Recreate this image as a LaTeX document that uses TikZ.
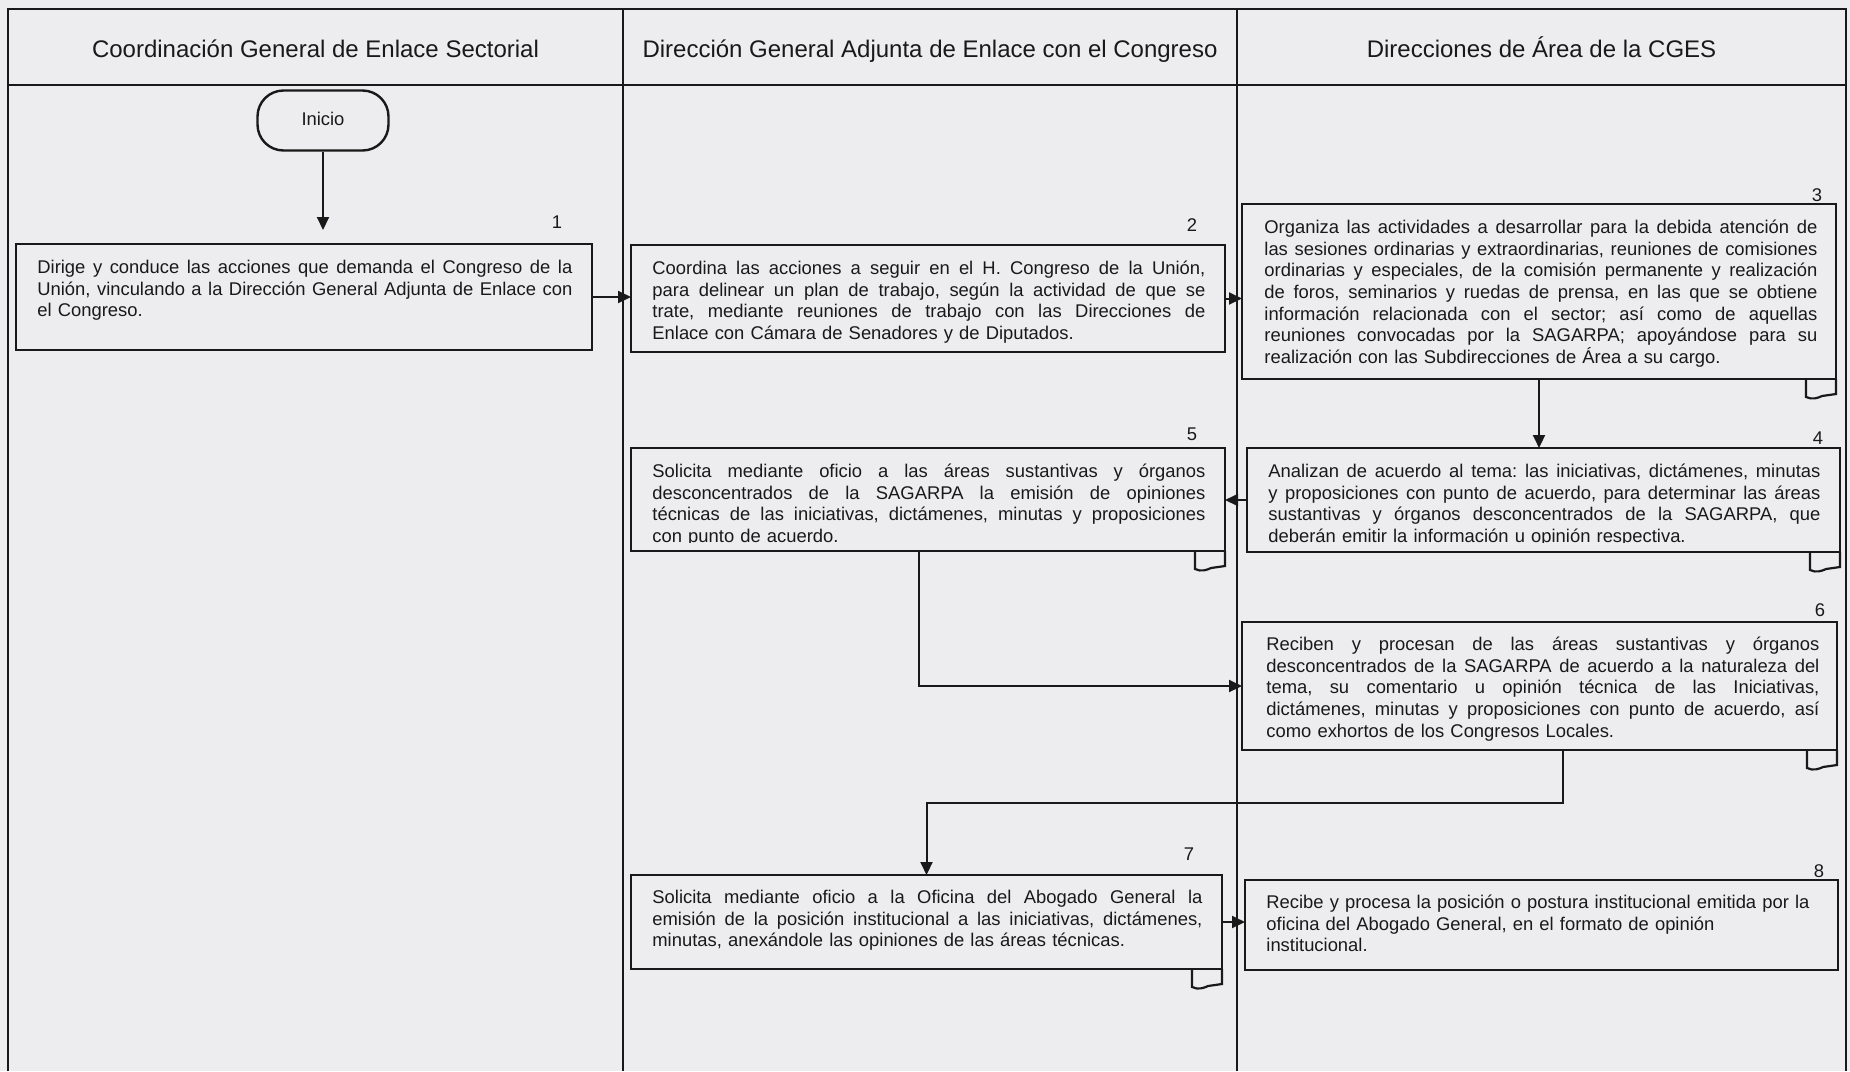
\documentclass[tikz,border=0pt]{standalone}
\usepackage{fontspec}
\setmainfont{Liberation Sans}
\usetikzlibrary{arrows.meta}
\definecolor{paper}{RGB}{237,237,239}
\definecolor{ink}{RGB}{25,25,25}
% width of a justified line inside a step description
\newdimen\jw
% one justified line / one natural-width line of a step description
\newcommand\jl[1]{\hbox to\jw{\spaceskip=0.2778em plus 1fil\relax\rule{0pt}{8pt}#1}\par}
\newcommand\jr[1]{\hbox{\rule{0pt}{8pt}#1}\par}
% small document tab under the lower right corner of a step box
\newcommand\doctab[1]{%
  \draw[tabline] ([shift={(-30,0)}]#1.south east) -- ([shift={(-30,18)}]#1.south east)
    .. controls ([shift={(-24,21)}]#1.south east) and ([shift={(-18,19)}]#1.south east)
    .. ([shift={(-14,17)}]#1.south east) -- ([shift={(0,15)}]#1.south east) -- (#1.south east);}
\begin{document}
\begin{tikzpicture}[x=0.5pt,y=-0.5pt,
  lane/.style={draw=ink,line width=1pt},
  stepbox/.style={draw=ink,line width=1.2pt,inner sep=0pt,outer sep=0pt},
  tabline/.style={draw=ink,line width=1.1pt},
  txt/.style={anchor=north west,inner sep=0pt,text=ink,
    font=\fontsize{9.2pt}{10.85pt}\selectfont\frenchspacing},
  lines/.style={text width=#1,execute at begin node={\jw=#1\relax}},
  head/.style={anchor=base,inner sep=0pt,text=ink,font=\fontsize{12pt}{14pt}\selectfont},
  num/.style={inner sep=0pt,text=ink,font=\fontsize{9.2pt}{11pt}\selectfont},
  term/.style={draw=ink,line width=1.2pt,rounded corners=13pt,minimum width=65.5pt,
    minimum height=30pt,inner sep=0pt,text=ink,font=\fontsize{9.2pt}{11pt}\selectfont},
  conn/.style={draw=ink,line width=1pt,-{Triangle[length=6.5pt,width=6pt]}}]

\useasboundingbox (0,0) rectangle (1850,1071);
\fill[paper] (0,0) rectangle (1850,1071);

% swimlane frame
\draw[lane] (8,1071) -- (8,9) -- (1846,9) -- (1846,1071);
\draw[lane] (8,85) -- (1846,85);
\draw[lane] (623,9) -- (623,1071);
\draw[lane] (1237,9) -- (1237,1071);

\node[head] (h1) at (315.5,57) {Coordinación General de Enlace Sectorial};
\node[head] (h2) at (930,57) {Dirección General Adjunta de Enlace con el Congreso};
\node[head] (h3) at (1541.5,57) {Direcciones de Área de la CGES};

% start terminal
\node[term] (ini) at (323,120.5) {\raisebox{1.2pt}{Inicio}};

% step boxes
\node[stepbox,minimum width=288pt,minimum height=53pt] (b1) at (304,297) {};
\node[stepbox,minimum width=297pt,minimum height=53.5pt] (b2) at (928,298.5) {};
\node[stepbox,minimum width=297pt,minimum height=87.5pt] (b3) at (1539,291.5) {};
\node[stepbox,minimum width=296.5pt,minimum height=52pt] (b4) at (1543.5,500) {};
\node[stepbox,minimum width=297pt,minimum height=51.5pt] (b5) at (928,499.5) {};
\node[stepbox,minimum width=297.5pt,minimum height=64pt] (b6) at (1539.5,686) {};
\node[stepbox,minimum width=295.5pt,minimum height=47pt] (b7) at (926.5,922) {};
\node[stepbox,minimum width=296.5pt,minimum height=45pt] (b8) at (1541.5,925) {};

\doctab{b3}
\doctab{b4}
\doctab{b5}
\doctab{b6}
\doctab{b7}

% step numbers
\node[num] (n1) at (557,222) {1};
\node[num] (n2) at (1192,225) {2};
\node[num] (n3) at (1817,195) {3};
\node[num] (n4) at (1818,438) {4};
\node[num] (n5) at (1192,434) {5};
\node[num] (n6) at (1820,610) {6};
\node[num] (n7) at (1189,854) {7};
\node[num] (n8) at (1819,871) {8};

% step descriptions
\node[txt,lines=267.5pt] (t1) at ([shift={(21,13)}]b1.north west) {%
\jl{Dirige y conduce las acciones que demanda el Congreso de la}
\jl{Unión, vinculando a la Dirección General Adjunta de Enlace con}
\jr{el Congreso.}};

\node[txt,lines=276.5pt] (t2) at ([shift={(21,13)}]b2.north west) {%
\jl{Coordina las acciones a seguir en el H. Congreso de la Unión,}
\jl{para delinear un plan de trabajo, según la actividad de que se}
\jl{trate, mediante reuniones de trabajo con las Direcciones de}
\jr{Enlace con Cámara de Senadores y de Diputados.}};

\node[txt,lines=276.5pt] (t3) at ([shift={(22,13)}]b3.north west) {%
\jl{Organiza las actividades a desarrollar para la debida atención de}
\jl{las sesiones ordinarias y extraordinarias, reuniones de comisiones}
\jl{ordinarias y especiales, de la comisión permanente y realización}
\jl{de foros, seminarios y ruedas de prensa, en las que se obtiene}
\jl{información relacionada con el sector; así como de aquellas}
\jl{reuniones convocadas por la SAGARPA; apoyándose para su}
\jr{realización con las Subdirecciones de Área a su cargo.}};

\begin{scope}
\clip (1240,440) rectangle (1850,542);
\node[txt,lines=276pt] (t4) at ([shift={(21,13)}]b4.north west) {%
\jl{Analizan de acuerdo al tema: las iniciativas, dictámenes, minutas}
\jl{y proposiciones con punto de acuerdo, para determinar las áreas}
\jl{sustantivas y órganos desconcentrados de la SAGARPA, que}
\jr{deberán emitir la información u opinión respectiva.}};
\end{scope}

\begin{scope}
\clip (625,440) rectangle (1230,542);
\node[txt,lines=276.5pt] (t5) at ([shift={(21,13)}]b5.north west) {%
\jl{Solicita mediante oficio a las áreas sustantivas y órganos}
\jl{desconcentrados de la SAGARPA la emisión de opiniones}
\jl{técnicas de las iniciativas, dictámenes, minutas y proposiciones}
\jr{con punto de acuerdo.}};
\end{scope}

\node[txt,lines=276.5pt] (t6) at ([shift={(24,12)}]b6.north west) {%
\jl{Reciben y procesan de las áreas sustantivas y órganos}
\jl{desconcentrados de la SAGARPA de acuerdo a la naturaleza del}
\jl{tema, su comentario u opinión técnica de las Iniciativas,}
\jl{dictámenes, minutas y proposiciones con punto de acuerdo, así}
\jr{como exhortos de los Congresos Locales.}};

\node[txt,lines=275pt] (t7) at ([shift={(21,12)}]b7.north west) {%
\jl{Solicita mediante oficio a la Oficina del Abogado General la}
\jl{emisión de la posición institucional a las iniciativas, dictámenes,}
\jr{minutas, anexándole las opiniones de las áreas técnicas.}};

\node[txt,text width=276pt] (t8) at ([shift={(21,12)}]b8.north west) {%
\jr{Recibe y procesa la posición o postura institucional emitida por la}
\jr{oficina del Abogado General, en el formato de opinión}
\jr{institucional.}};

% connectors
\coordinate (c67) at (1563,803);
\draw[conn,shorten >=7pt] (ini.south) -- (ini.south |- b1.north);
\draw[conn] (b1.east) -- (b1.east -| b2.west);
\draw[conn] (b2.east) -- (b2.east -| b3.west);
\draw[conn] (b3.south) -- (b3.south |- b4.north);
\draw[conn] (b4.west) -- (b4.west -| b5.east);
\draw[conn] ([xshift=-4.5pt]b5.south) |- (b6.west);
\draw[conn] (c67 |- b6.south) -- (c67) -| (b7.north);
\draw[conn] (b7.east) -- (b7.east -| b8.west);
\end{tikzpicture}
\end{document}
